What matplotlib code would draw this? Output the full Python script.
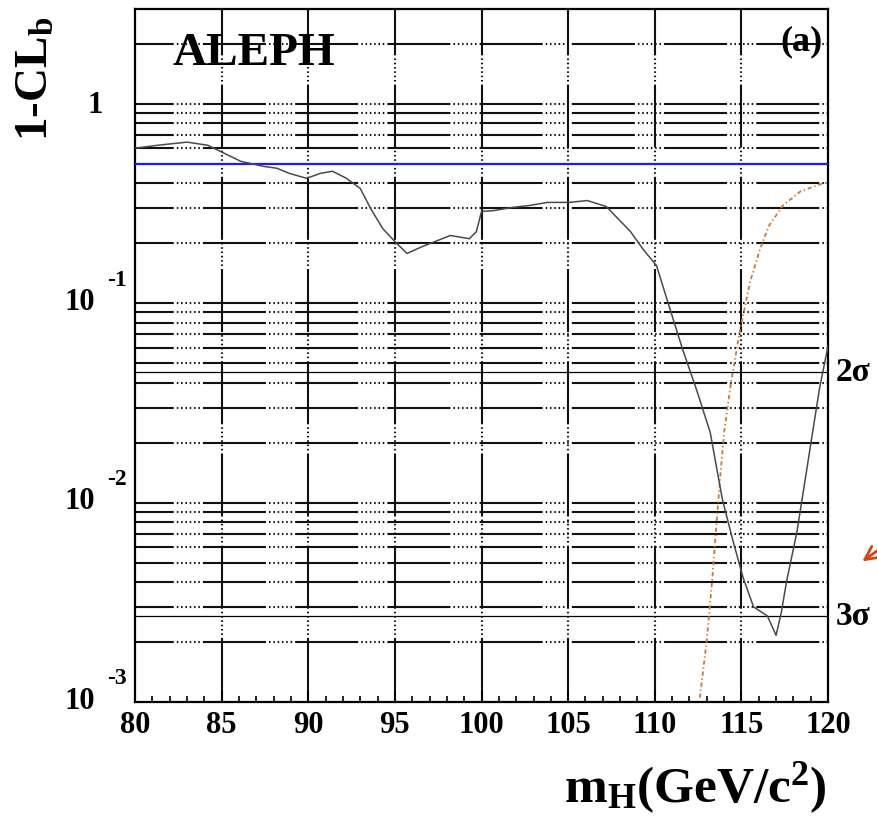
import numpy as np
import matplotlib.pyplot as plt
from matplotlib.ticker import MultipleLocator, NullFormatter
from matplotlib import transforms

plt.rcParams['font.family'] = ['Liberation Serif', 'DejaVu Serif']
plt.rcParams['mathtext.fontset'] = 'custom'
plt.rcParams['mathtext.rm'] = 'Liberation Serif:bold'
plt.rcParams['mathtext.bf'] = 'Liberation Serif:bold'
plt.rcParams['mathtext.it'] = 'Liberation Serif:bold'
plt.rcParams['lines.scale_dashes'] = False

mass_obs = [80.0, 81.3, 83.0, 84.2, 84.9, 86.1, 87.4, 88.2, 88.9, 89.9, 90.7, 91.4,
            92.2, 93.0, 93.6, 94.3, 95.1, 95.7, 96.6, 98.2, 99.3, 99.7, 100.0, 100.7,
            101.8, 102.8, 103.8, 105.1, 106.1, 107.2, 108.6, 109.3, 110.1, 110.7,
            111.6, 112.4, 113.2, 113.9, 114.5, 115.1, 115.7, 116.5, 117.0, 117.3,
            117.6, 118.2, 118.8, 119.5, 120.0]
clb_obs = [0.600, 0.621, 0.644, 0.621, 0.580, 0.516, 0.487, 0.476, 0.449, 0.424,
           0.449, 0.460, 0.424, 0.377, 0.299, 0.237, 0.200, 0.178, 0.193, 0.219,
           0.211, 0.229, 0.289, 0.292, 0.303, 0.310, 0.321, 0.321, 0.328, 0.306,
           0.229, 0.188, 0.1545, 0.105, 0.059, 0.0371, 0.0225, 0.0104, 0.0065,
           0.0042, 0.0030, 0.0027, 0.00216, 0.0028, 0.0040, 0.0071, 0.0152,
           0.0371, 0.0611]

# expected for signal + background
mass_exp = [112.6, 113.0, 113.3, 113.5, 113.75, 114.0, 114.4, 114.9, 115.5, 116.1,
            116.6, 117.4, 118.4, 119.7, 120.0]
clb_exp = [0.00105, 0.00204, 0.00395, 0.0067, 0.0126, 0.0225, 0.0402, 0.0718,
           0.128, 0.190, 0.246, 0.310, 0.364, 0.400, 0.404]

ref_level = 0.5
sigma_levels = [0.0455, 0.0027]
sigma_labels = ['2σ', '3σ']

x_ticks = [80, 85, 90, 95, 100, 105, 110, 115, 120]
y_decades = [1e-3, 1e-2, 1e-1, 1.0]
y_min, y_max = 1e-3, 3.0

fig = plt.figure(figsize=(8.78, 8.28), dpi=100)
ax = fig.add_axes([0.1538, 0.1510, 0.7893, 0.8370])
ax.set_yscale('log')
ax.set_xlim(80, 120)
ax.set_ylim(y_min, y_max)

# ROOT-like grid: long dash followed by a run of dots
grid_pat = (45.4, 2.2, 1.1, 2.0, 1.1, 2.0, 1.1, 2.0, 1.1, 2.0, 1.1, 2.0, 1.1, 2.2)
grid_y = []
for d in [1e-3, 1e-2, 1e-1, 1.0]:
    for k in range(1, 10):
        v = k * d
        if y_min < v < y_max and abs(v - ref_level) > 1e-9:
            grid_y.append(v)
for v in grid_y:
    ax.axhline(v, color='#111111', lw=1.5, ls=(17.5, grid_pat), zorder=1)
for xv in x_ticks[1:-1]:
    ax.plot([xv, xv], [y_max, y_min], color='#111111', lw=1.5,
            ls=(12.0, grid_pat), zorder=1)

for lvl in sigma_levels:
    ax.axhline(lvl, color='black', lw=0.9, zorder=2)

ax.axhline(ref_level, color='#1a1aff', lw=1.6, zorder=3)

ax.plot(mass_exp, clb_exp, color='#c8783c', lw=1.3, ls=(0, (3, 2, 1, 2)), zorder=4)
ax.plot(mass_obs, clb_obs, color='#4a4a4a', lw=1.1, zorder=5)

for s in ax.spines.values():
    s.set_linewidth(1.6)

ax.xaxis.set_major_locator(MultipleLocator(5))
ax.xaxis.set_minor_locator(MultipleLocator(1))
ax.tick_params(axis='x', which='major', direction='in', length=8, width=1.4,
               labelsize=22, pad=6)
ax.tick_params(axis='x', which='minor', direction='in', length=4, width=1.2)
ax.set_xticks(x_ticks)
ax.set_xticklabels([str(t) for t in x_ticks], fontweight='bold')
ax.tick_params(axis='y', which='both', length=0)
ax.yaxis.set_major_formatter(NullFormatter())
ax.yaxis.set_minor_formatter(NullFormatter())

# y tick labels in ROOT style (base and raised exponent)
trans = transforms.blended_transform_factory(fig.transFigure, ax.transData)
for d in y_decades:
    if d == 1.0:
        ax.text(0.1175, d, '1', transform=trans, ha='right', va='center',
                fontsize=22, fontweight='bold')
    else:
        ax.text(0.1085, d * 1.02, '10', transform=trans, ha='right', va='center',
                fontsize=22, fontweight='bold')
        ax.text(0.1225, d * 1.32, '-%d' % round(-np.log10(d)), transform=trans,
                ha='left', va='center', fontsize=17, fontweight='bold')

for lvl, lab in zip(sigma_levels, sigma_labels):
    ax.text(0.952, lvl, lab, transform=trans, ha='left', va='center',
            fontsize=24, fontweight='bold')

fig.text(0.196, 0.9215, 'ALEPH', fontsize=34, fontweight='bold', va='baseline')
fig.text(0.937, 0.949, '(a)', fontsize=26, fontweight='bold', ha='right', va='center')

fig.text(0.042, 0.905, r'1-CL$_{\mathbf{b}}$', rotation=90, fontsize=34,
         fontweight='bold', ha='center', va='center')
fig.text(0.942, 0.031, r'm$_{\mathbf{H}}$(GeV/c$^{\mathbf{2}}$)', fontsize=37,
         fontweight='bold', ha='right', va='baseline')

ax.annotate('', xy=(860 / 878, (828 - 564) / 828), xycoords='figure fraction',
            xytext=(905 / 878, (828 - 532) / 828), textcoords='figure fraction',
            arrowprops=dict(arrowstyle='->', color='#d84315', lw=2,
                            mutation_scale=24),
            annotation_clip=False)

fig.savefig('out.png', dpi=100)
